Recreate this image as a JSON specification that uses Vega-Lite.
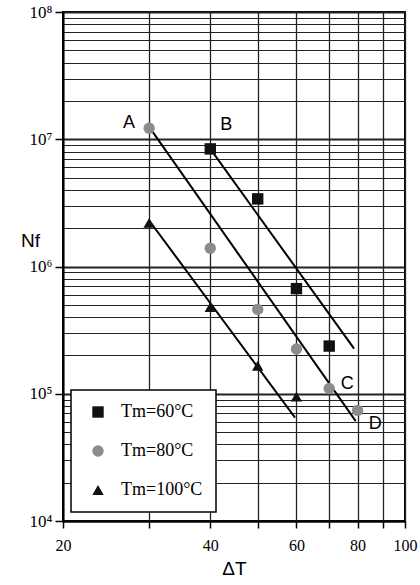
{
  "$schema": "https://vega.github.io/schema/vega-lite/v6.json",
  "width": 342,
  "height": 509,
  "autosize": "none",
  "padding": {"left": 63, "top": 12, "right": 15, "bottom": 64},
  "background": "white",
  "config": {
    "view": {"stroke": "black", "strokeWidth": 2},
    "legend": {
      "orient": "none",
      "legendX": 8,
      "legendY": 378,
      "strokeColor": "black",
      "strokeWidth": 1.5,
      "fillColor": "white",
      "padding": 13,
      "symbolOffset": 5,
      "labelOffset": 14,
      "rowPadding": 21,
      "labelFont": "Liberation Serif",
      "labelFontSize": 18,
      "labelColor": "black",
      "symbolSize": 130,
      "symbolStrokeWidth": 0,
      "title": null
    }
  },
  "datasets": {
    "points": [
      {"dT": 40, "Nf": 8400000, "Tm": "Tm=60°C"},
      {"dT": 50, "Nf": 3400000, "Tm": "Tm=60°C"},
      {"dT": 60, "Nf": 670000, "Tm": "Tm=60°C"},
      {"dT": 70, "Nf": 237000, "Tm": "Tm=60°C"},
      {"dT": 30, "Nf": 12200000, "Tm": "Tm=80°C"},
      {"dT": 40, "Nf": 1390000, "Tm": "Tm=80°C"},
      {"dT": 50, "Nf": 460000, "Tm": "Tm=80°C"},
      {"dT": 60, "Nf": 225000, "Tm": "Tm=80°C"},
      {"dT": 70, "Nf": 110000, "Tm": "Tm=80°C"},
      {"dT": 80, "Nf": 74000, "Tm": "Tm=80°C"},
      {"dT": 30, "Nf": 2200000, "Tm": "Tm=100°C"},
      {"dT": 40, "Nf": 480000, "Tm": "Tm=100°C"},
      {"dT": 50, "Nf": 166000, "Tm": "Tm=100°C"},
      {"dT": 60, "Nf": 95000, "Tm": "Tm=100°C"}
    ],
    "fits": [
      {"fit": "B", "dT": 40, "Nf": 8400000},
      {"fit": "B", "dT": 78.7, "Nf": 226000},
      {"fit": "AD", "dT": 30, "Nf": 12500000},
      {"fit": "AD", "dT": 79.3, "Nf": 61000},
      {"fit": "T", "dT": 30, "Nf": 2300000},
      {"fit": "T", "dT": 59.6, "Nf": 65000}
    ],
    "tags": [
      {"dT": 27.3, "Nf": 13400000, "tag": "A"},
      {"dT": 43.1, "Nf": 13000000, "tag": "B"},
      {"dT": 76.2, "Nf": 120000, "tag": "C"},
      {"dT": 86.9, "Nf": 58000, "tag": "D"}
    ]
  },
  "encoding": {
    "x": {
      "field": "dT",
      "type": "quantitative",
      "scale": {"type": "log", "domain": [20, 100], "nice": false},
      "axis": {
        "title": "ΔT",
        "titleFont": "Liberation Sans",
        "titleFontSize": 19,
        "titleFontWeight": "normal",
        "titleColor": "black",
        "titlePadding": 6,
        "values": [20, 30, 40, 50, 60, 70, 80, 90, 100],
        "labelExpr": "datum.value == 20 || datum.value == 40 || datum.value == 60 || datum.value == 80 || datum.value == 100 ? datum.value : ''",
        "labelFont": "Liberation Serif",
        "labelFontSize": 16,
        "labelColor": "black",
        "labelPadding": 9,
        "labelOverlap": false,
        "labelFlush": false,
        "domainColor": "black",
        "domainWidth": 2,
        "tickColor": "black",
        "tickWidth": 1.5,
        "tickSize": 7,
        "grid": true,
        "gridColor": "#222",
        "gridWidth": 1.3
      }
    },
    "y": {
      "field": "Nf",
      "type": "quantitative",
      "scale": {"type": "log", "domain": [10000, 100000000], "nice": false},
      "axis": {
        "title": "Nf",
        "titleAngle": 0,
        "titleX": -33,
        "titleY": 228,
        "titleAlign": "center",
        "titleBaseline": "middle",
        "titleFont": "Liberation Sans",
        "titleFontSize": 19,
        "titleFontWeight": "normal",
        "titleColor": "black",
        "values": [10000, 20000, 30000, 40000, 50000, 60000, 70000, 80000, 90000, 100000, 200000, 300000, 400000, 500000, 600000, 700000, 800000, 900000, 1000000, 2000000, 3000000, 4000000, 5000000, 6000000, 7000000, 8000000, 9000000, 10000000, 20000000, 30000000, 40000000, 50000000, 60000000, 70000000, 80000000, 90000000, 100000000],
        "labelExpr": "datum.value == 1e4 ? '10⁴' : datum.value == 1e5 ? '10⁵' : datum.value == 1e6 ? '10⁶' : datum.value == 1e7 ? '10⁷' : datum.value == 1e8 ? '10⁸' : ''",
        "labelFont": "Liberation Serif",
        "labelFontSize": 17,
        "labelColor": "black",
        "labelPadding": 3,
        "labelOverlap": false,
        "labelFlush": false,
        "domainColor": "black",
        "domainWidth": 2,
        "tickColor": "black",
        "tickWidth": 1.5,
        "tickSize": 8,
        "tickOpacity": {"condition": {"test": "datum.value == 1e4 || datum.value == 1e5 || datum.value == 1e6 || datum.value == 1e7 || datum.value == 1e8", "value": 1}, "value": 0},
        "grid": true,
        "gridColor": "#222",
        "gridWidth": {"condition": {"test": "datum.value == 1e4 || datum.value == 1e5 || datum.value == 1e6 || datum.value == 1e7 || datum.value == 1e8", "value": 2.2}, "value": 1.1}
      }
    }
  },
  "layer": [
    {
      "data": {"name": "fits"},
      "mark": {"type": "line", "color": "black", "strokeWidth": 2},
      "encoding": {"detail": {"field": "fit"}}
    },
    {
      "data": {"name": "points"},
      "mark": {"type": "point", "filled": true, "opacity": 1, "size": 130},
      "encoding": {
        "shape": {
          "field": "Tm",
          "type": "nominal",
          "scale": {"domain": ["Tm=60°C", "Tm=80°C", "Tm=100°C"], "range": ["square", "circle", "triangle-up"]}
        },
        "color": {
          "field": "Tm",
          "type": "nominal",
          "scale": {"domain": ["Tm=60°C", "Tm=80°C", "Tm=100°C"], "range": ["#111111", "#8c8c8c", "#111111"]}
        }
      }
    },
    {
      "data": {"name": "tags"},
      "mark": {"type": "text", "font": "Liberation Sans", "fontSize": 18, "color": "black", "align": "center", "baseline": "middle"},
      "encoding": {"text": {"field": "tag"}}
    }
  ]
}
